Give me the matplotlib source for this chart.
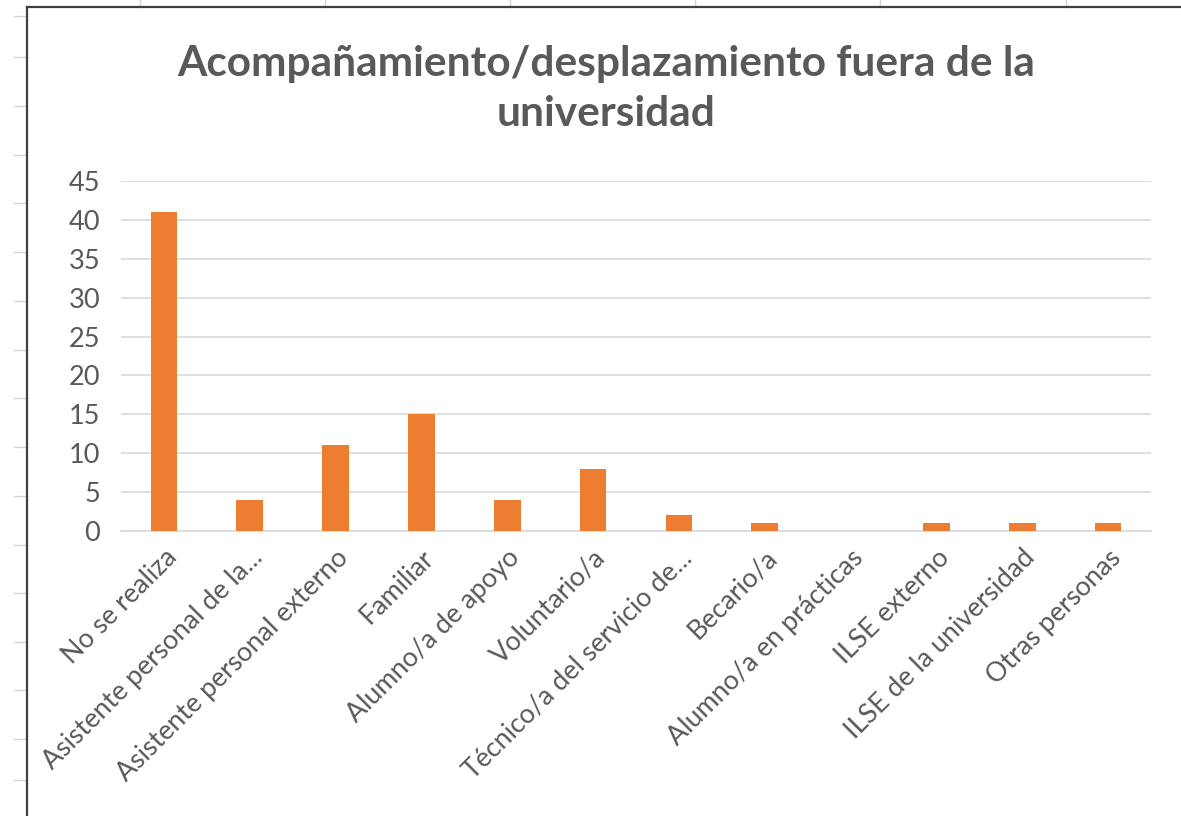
import matplotlib
matplotlib.use("Agg")
import matplotlib.pyplot as plt
from matplotlib.lines import Line2D

# datos
categorias = ["No se realiza", "Asistente personal de la...", "Asistente personal externo",
              "Familiar", "Alumno/a de apoyo", "Voluntario/a", "Técnico/a del servicio de...",
              "Becario/a", "Alumno/a en prácticas", "ILSE externo", "ILSE de la universidad",
              "Otras personas"]
valores = [41, 4, 11, 15, 4, 8, 2, 1, 0, 1, 1, 1]
yticks = [0, 5, 10, 15, 20, 25, 30, 35, 40, 45]
titulo = "Acompañamiento/desplazamiento fuera de la\nuniversidad"

GRIS = "#595959"
NARANJA = "#ED7D31"
W, H = 1181, 816

plt.rcParams["font.family"] = ["Lato", "DejaVu Sans"]

fig = plt.figure(figsize=(W / 100, H / 100), dpi=100)
fig.patch.set_facecolor("white")


def px(x, y):
    return x / W, 1 - y / H


# celdas de la hoja de cálculo fuera del gráfico
for yy in [16, 57, 106, 155, 203, 252, 301, 350, 398, 447, 496, 545, 593, 642, 690, 739, 780]:
    (x0, y0), (x1, _) = px(14, yy), px(27, yy)
    fig.add_artist(Line2D([x0, x1], [y0, y0], color="#D4D4D4", lw=1))
for xx in [140, 325, 510, 695, 880, 1066]:
    (x0, y0), (_, y1) = px(xx, 0), px(xx, 7)
    fig.add_artist(Line2D([x0, x0], [y0, y1], color="#D4D4D4", lw=1))

# borde del gráfico
(bx, by) = px(27, 7)
fig.add_artist(Line2D([bx, bx], [0, by], color="#404040", lw=1.6))
fig.add_artist(Line2D([bx, 1], [by, by], color="#404040", lw=1.6))

l, b = px(121, 531)
r, t = px(1151, 181)
ax = fig.add_axes([l, b, r - l, t - b])
xs = range(len(categorias))
ax.bar(xs, valores, width=0.31, color=NARANJA, zorder=3)

ax.set_xlim(-0.5, len(categorias) - 0.5)
ax.set_ylim(0, 45)
ax.set_yticks(yticks)
ax.set_yticklabels([str(v) for v in yticks])
ax.yaxis.grid(True, color="#D9D9D9", lw=1.2, zorder=0)
for s in ["top", "right", "left"]:
    ax.spines[s].set_visible(False)
ax.spines["bottom"].set_color("#D9D9D9")
ax.spines["bottom"].set_linewidth(1.2)
ax.tick_params(axis="y", length=0, pad=15, labelsize=19.5, labelcolor=GRIS)
ax.tick_params(axis="x", length=0, pad=10, labelsize=19.3, labelcolor=GRIS)
ax.set_xticks(list(xs))
ax.set_xticklabels(categorias, rotation=45, ha="right", rotation_mode="anchor")

tx, ty = px(606, 89)
fig.text(tx, ty, titulo, ha="center", va="center", fontsize=30.5, fontweight="bold",
         color=GRIS, linespacing=1.38)

fig.savefig("out.png", dpi=100)
